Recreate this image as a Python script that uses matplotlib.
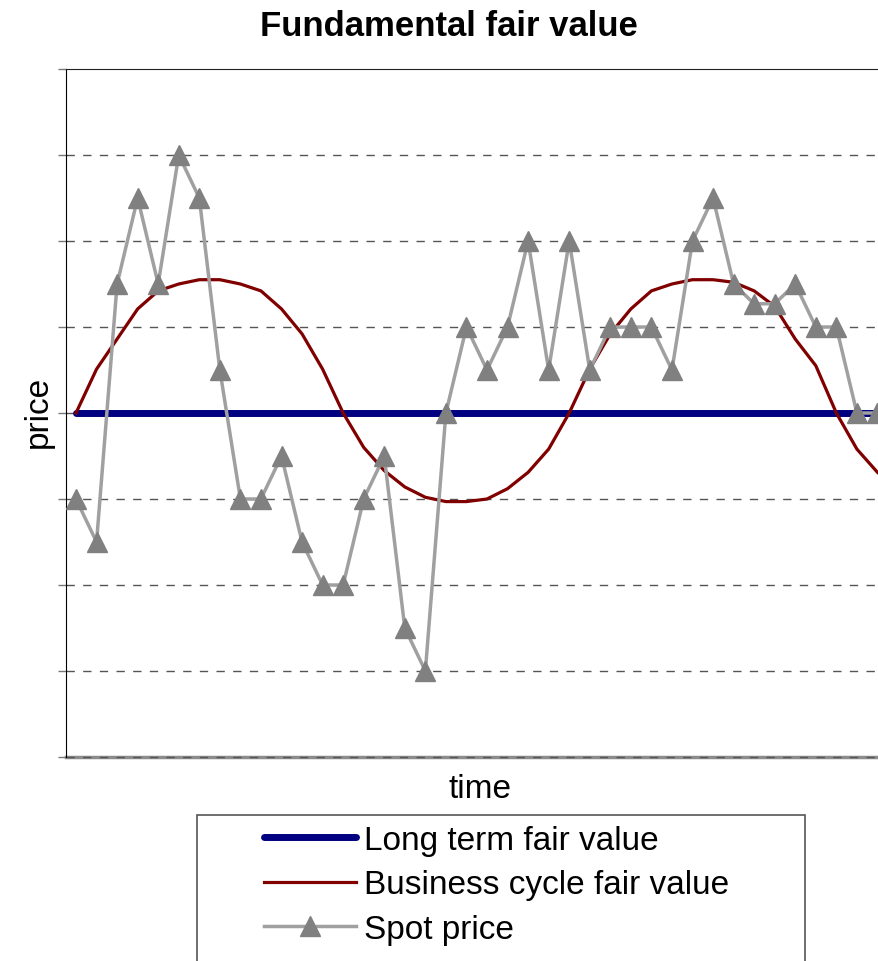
import matplotlib.pyplot as plt
from matplotlib.patches import Rectangle

plt.rcParams['font.family'] = ['Liberation Sans', 'DejaVu Sans']

# series values, one per period
long_term = [0.0] * 41
business_cycle = [0.0, 0.51, 0.86, 1.21, 1.42, 1.50, 1.55, 1.55, 1.50, 1.42,
                  1.21, 0.92, 0.51, 0.0, -0.40, -0.67, -0.86, -0.98, -1.03, -1.03,
                  -1.00, -0.88, -0.69, -0.42, 0.0, 0.51, 0.92, 1.21, 1.42, 1.50,
                  1.55, 1.55, 1.52, 1.42, 1.24, 0.86, 0.55, 0.0, -0.42, -0.69,
                  -0.88]
spot = [-1.0, -1.5, 1.5, 2.5, 1.5, 3.0, 2.5, 0.5, -1.0, -1.0,
        -0.5, -1.5, -2.0, -2.0, -1.0, -0.5, -2.5, -3.0, 0.0, 1.0,
        0.5, 1.0, 2.0, 0.5, 2.0, 0.5, 1.0, 1.0, 1.0, 0.5,
        2.0, 2.5, 1.5, 1.27, 1.27, 1.5, 1.0, 1.0, 0.0, 0.0]
labels = ['Long term fair value', 'Business cycle fair value', 'Spot price']
y_levels = [-4, -3, -2, -1, 0, 1, 2, 3, 4]

W, H = 879, 962
fig = plt.figure(figsize=(W / 100, H / 100), dpi=100)


def fx(px):
    return px / W


def fy(py):
    return 1 - py / H


# plot area runs past the right edge of the figure
ax = fig.add_axes([fx(66), fy(758), (900 - 66) / W, (758 - 70) / H])

step = 20.55
ax.set_xlim(-10 / step, (900 - 76) / step)
ax.set_ylim(-4, 4)

for lvl in y_levels[:-1]:
    ax.axhline(lvl, color='#555555', lw=1, dashes=(6, 6), zorder=1,
               clip_on=False)

h1, = ax.plot(range(len(long_term)), long_term, color='#000080', lw=5,
              solid_capstyle='round', zorder=2)
h2, = ax.plot(range(len(business_cycle)), business_cycle, color='#800000',
              lw=2.3, zorder=3)
h3, = ax.plot(range(len(spot)), spot, color='#a0a0a0', lw=2.5, marker='^',
              markersize=15, markerfacecolor='#808080', markeredgecolor='#808080',
              zorder=4)

ax.set_yticks(y_levels)
ax.set_yticklabels([])
ax.set_xticks([])
ax.tick_params(axis='y', direction='out', length=6, color='#777777', width=1)

ax.spines['right'].set_visible(False)
ax.spines['top'].set_color('#222222')
ax.spines['left'].set_color('#000000')
ax.spines['bottom'].set_color('#8c8c8c')
ax.spines['bottom'].set_linewidth(2.5)
ax.spines['bottom'].set_zorder(0)

fig.text(fx(449), fy(26), 'Fundamental fair value', ha='center', va='center',
         fontsize=25, fontweight='bold')
fig.text(fx(38), fy(412), 'price', ha='center', va='center', rotation=90,
         fontsize=24)
fig.text(fx(480), fy(790), 'time', ha='center', va='center', fontsize=24)

# legend box, open at the bottom edge of the figure
fig.add_artist(Rectangle((fx(197), fy(1000)), (805 - 197) / W, (1000 - 816) / H,
                         transform=fig.transFigure, fill=False,
                         ec='#555555', lw=1.2))
fig.legend([h1, h2, h3], labels, loc='upper left',
           bbox_to_anchor=(fx(264), fy(826)), frameon=False, fontsize=24,
           handlelength=2.75, handletextpad=0.25, labelspacing=0.4,
           borderpad=0, borderaxespad=0)

fig.savefig('out.png', dpi=100)
